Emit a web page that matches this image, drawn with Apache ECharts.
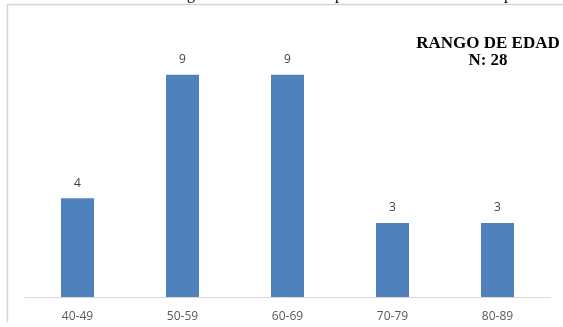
<!DOCTYPE html>
<html>
<head>
<meta charset="utf-8">
<script src="https://cdn.jsdelivr.net/npm/echarts@6/dist/echarts.min.js"></script>
<style>
html,body{margin:0;padding:0;background:#fff;}
#c{width:563px;height:327px;}
</style>
</head>
<body>
<div id="c"></div>
<script>
const categories = ['40-49', '50-59', '60-69', '70-79', '80-89'];
const values = [4, 9, 9, 3, 3];
const titleLines = ['RANGO DE EDAD', 'N: 28'];

const chart = echarts.init(document.getElementById('c'), null, {renderer: 'canvas'});
chart.setOption({
  animation: false,
  backgroundColor: '#ffffff',
  title: {
    text: titleLines.join('\n'),
    left: 483,
    top: 30,
    textAlign: 'center',
    textStyle: {
      fontFamily: 'Liberation Serif',
      fontWeight: 'bold',
      fontSize: 17,
      lineHeight: 17,
      color: '#000000'
    }
  },
  graphic: [
    {type: 'line', shape: {x1: 7, y1: 4.5, x2: 563, y2: 4.5}, style: {stroke: '#d4d4d4', lineWidth: 1.5}, z: 10},
    {type: 'line', shape: {x1: 7.5, y1: 4, x2: 7.5, y2: 322}, style: {stroke: '#d4d4d4', lineWidth: 1.5}, z: 10},
    {type: 'text', x: 187, y: 3, style: {text: 'g', font: '16px "Liberation Serif"', fill: '#000', verticalAlign: 'bottom'}},
    {type: 'text', x: 335, y: 3, style: {text: 'p', font: '16px "Liberation Serif"', fill: '#000', verticalAlign: 'bottom'}},
    {type: 'text', x: 504, y: 3, style: {text: 'p', font: '16px "Liberation Serif"', fill: '#000', verticalAlign: 'bottom'}}
  ],
  grid: {left: 25, right: 13, top: 50, bottom: 30, containLabel: false},
  xAxis: {
    type: 'category',
    data: categories,
    axisLine: {show: true, lineStyle: {color: '#d9d9d9', width: 1}},
    axisTick: {show: false},
    axisLabel: {color: '#595959', fontSize: 12, fontFamily: 'Open Sans', margin: 14}
  },
  yAxis: {
    type: 'value',
    min: 0,
    max: 10,
    show: false,
    splitLine: {show: false}
  },
  series: [{
    type: 'bar',
    data: values,
    barWidth: 33,
    itemStyle: {color: '#4f81bd'},
    label: {
      show: true,
      position: 'top',
      distance: 9,
      color: '#404040',
      fontSize: 12,
      fontFamily: 'Open Sans'
    }
  }]
});
</script>
</body>
</html>
